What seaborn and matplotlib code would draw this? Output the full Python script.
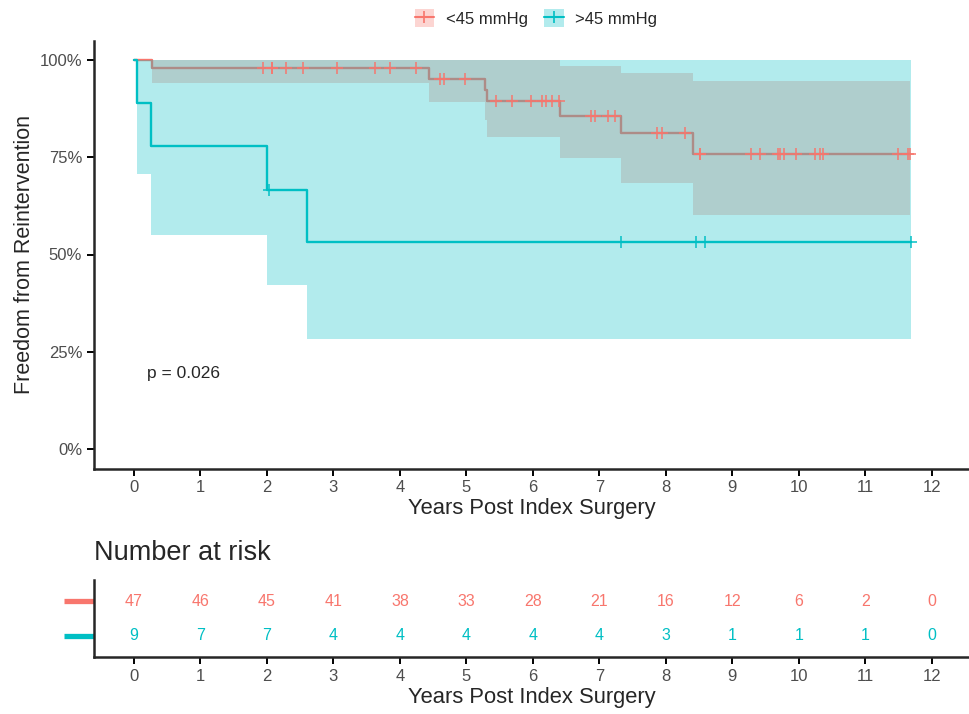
import matplotlib
matplotlib.use("Agg")
import matplotlib.pyplot as plt
import seaborn as sns
import pandas as pd
import numpy as np
from matplotlib.patches import Patch
from matplotlib.lines import Line2D

# data
groups = ['<45 mmHg', '>45 mmHg']
colors = ['#F8766D', '#00BFC4']

# <45 mmHg : step curve + 95% CI
lo_t = [0, 0.27, 4.44, 5.28, 5.31, 6.41, 7.33, 8.41, 11.67]
lo_surv = [1.0, 0.979, 0.952, 0.923, 0.895, 0.857, 0.812, 0.758, 0.758]
lo_ci_low = [1.0, 0.942, 0.892, 0.846, 0.803, 0.749, 0.685, 0.602, 0.602]
lo_ci_up = [1.0, 1.0, 1.0, 1.0, 1.0, 0.985, 0.967, 0.947, 0.947]
lo_cens = [1.94, 2.07, 2.08, 2.29, 2.54, 3.06, 3.63, 3.85, 4.24, 4.60, 4.67, 4.98,
           5.44, 5.68, 5.97, 6.13, 6.20, 6.29, 6.39, 6.87, 6.94, 7.13, 7.24,
           7.87, 7.94, 8.28, 8.51, 8.52, 9.28, 9.41, 9.69, 9.71, 9.78, 9.96,
           10.24, 10.32, 10.36, 11.49, 11.64, 11.67]

# >45 mmHg
hi_t = [0, 0.05, 0.26, 2.0, 2.6, 11.68]
hi_surv = [1.0, 0.889, 0.778, 0.667, 0.533, 0.533]
hi_ci_low = [1.0, 0.707, 0.549, 0.421, 0.283, 0.283]
hi_ci_up = [1.0, 1.0, 1.0, 1.0, 1.0, 1.0]
hi_cens = [2.03, 7.33, 8.45, 8.59, 11.68]

# number at risk table
risk_years = list(range(13))
risk_lo = [47, 46, 45, 41, 38, 33, 28, 21, 16, 12, 6, 2, 0]
risk_hi = [9, 7, 7, 4, 4, 4, 4, 4, 3, 1, 1, 1, 0]

pval_text = 'p = 0.026'

sns.set_style('ticks')
plt.rcParams['font.family'] = ['Liberation Sans', 'DejaVu Sans']

W, H = 969, 714
fig = plt.figure(figsize=(W / 100, H / 100), dpi=100)
ax = fig.add_axes([94 / W, 1 - 468.5 / H, (W - 94) / W, 428 / H])
axr = fig.add_axes([94 / W, 1 - 657 / H, (W - 94) / W, 77 / H])


def step_at(t, times, surv):
    idx = np.searchsorted(times, t, side='right') - 1
    return np.asarray(surv)[idx]


curves = [
    (lo_t, lo_surv, lo_ci_low, lo_ci_up, lo_cens),
    (hi_t, hi_surv, hi_ci_low, hi_ci_up, hi_cens),
]

# bands + lines, each group stacked on the previous (blue band covers red line)
z = 1
for (t, s, lo, up, cens), col in zip(curves, colors):
    ax.fill_between(t, lo, up, step='post', color=col, alpha=0.3, lw=0, zorder=z)
    df = pd.DataFrame({'time': t, 'surv': s})
    sns.lineplot(data=df, x='time', y='surv', ax=ax, color=col, lw=1.7,
                 drawstyle='steps-post', estimator=None, sort=False, zorder=z + 1)
    z += 2

for (t, s, lo, up, cens), col in zip(curves, colors):
    cdf = pd.DataFrame({'time': cens, 'surv': step_at(cens, t, s)})
    ax.plot(cdf['time'], cdf['surv'], ls='none', marker='+', ms=9, mew=1.2,
            color=col, alpha=0.9, zorder=6)

ax.text(0.2, 0.195, pval_text, fontsize=12.5, ha='left', va='center')

xmax = -0.6 + (W - 94) / 66.5
for a in (ax, axr):
    a.set_xlim(-0.6, xmax)
    a.set_xticks(risk_years)
    a.tick_params(axis='both', labelsize=12, labelcolor='#4D4D4D', width=1.4,
                  length=5, color='black')
    for sp in ['left', 'bottom']:
        a.spines[sp].set_linewidth(1.8)
    sns.despine(ax=a)
    a.set_xlabel('Years Post Index Surgery', fontsize=15.8, labelpad=2)

ax.set_ylim(-0.05, 1.05)
ax.set_yticks([0, 0.25, 0.5, 0.75, 1.0])
ax.set_yticklabels(['0%', '25%', '50%', '75%', '100%'])
ax.set_ylabel('Freedom from Reintervention', fontsize=15.5, labelpad=3)

# legend
handles = []
for col in colors:
    handles.append((Patch(facecolor=col, alpha=0.3, edgecolor='none'),
                    Line2D([], [], color=col, lw=1.5, marker='+', ms=9, mew=1.2)))
fig.legend(handles, groups, loc='center', bbox_to_anchor=(536 / W, 1 - 18 / H),
           ncol=2, frameon=False, fontsize=12, handlelength=1.15, handleheight=1.2,
           handletextpad=0.7, columnspacing=1.0)

# risk table
for row, vals, col in [(2, risk_lo, colors[0]), (1, risk_hi, colors[1])]:
    for x, v in zip(risk_years, vals):
        axr.text(x, row, str(v), color=col, fontsize=11.5, ha='center', va='center')
axr.set_ylim(0.4, 2.6)
axr.set_yticks([2, 1])
axr.set_yticklabels([])
axr.tick_params(axis='y', length=21.5, width=3.8)
for tick, col in zip(axr.yaxis.get_major_ticks(), colors):
    tick.tick1line.set_markeredgecolor(col)
axr.set_ylabel('')
fig.text(94 / W, 1 - 553 / H, 'Number at risk', fontsize=19.5, ha='left', va='center')

fig.savefig('out.png', dpi=100)
